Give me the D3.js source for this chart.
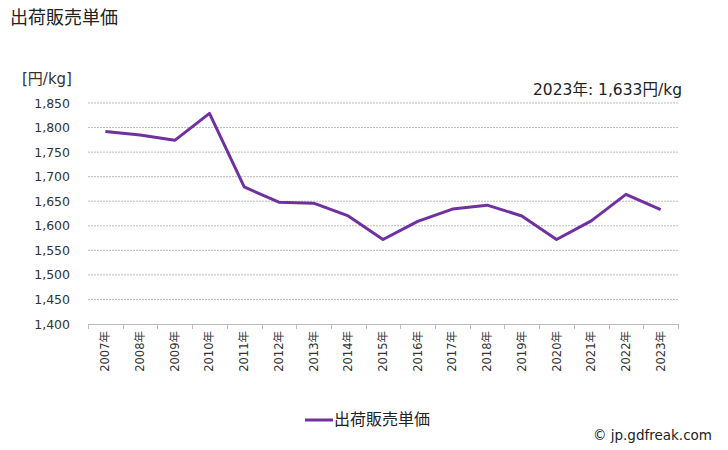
<!DOCTYPE html>
<html><head><meta charset="utf-8">
<script src="https://cdn.jsdelivr.net/npm/d3@7"></script>
<style>body{margin:0;background:#fff}svg{font-family:"DejaVu Sans","Noto Sans CJK JP",sans-serif}</style>
</head><body><svg id="c" width="728" height="450"></svg>
<script>
const years = ["2007年","2008年","2009年","2010年","2011年","2012年","2013年","2014年","2015年","2016年","2017年","2018年","2019年","2020年","2021年","2022年","2023年"];
const prices = [1792,1785,1774,1829,1679,1648,1646,1620,1572,1609,1634,1642,1620,1572,1610,1664,1633];
const yTicks = [1400,1450,1500,1550,1600,1650,1700,1750,1800,1850];
const seriesName = "出荷販売単価";
const unit = "[円/kg]";
const note = "2023年: 1,633円/kg";

const svg = d3.select("#c");
const L=88,R=678,T=103,B=324;
const x = d3.scaleBand().domain(years).range([L,R]);
const y = d3.scaleLinear().domain([1400,1850]).range([B,T]);

svg.append("text").attr("x",10).attr("y",24).attr("font-size",18).attr("fill","#222").text(seriesName);
svg.append("text").attr("x",22).attr("y",84).attr("font-size",15).attr("fill","#333").text(unit);
svg.append("text").attr("x",682).attr("y",95).attr("text-anchor","end").attr("font-size",15.5).attr("fill","#222").text(note);

// grid
svg.append("g").selectAll("line").data(yTicks.filter(d=>d>1400)).join("line")
  .attr("x1",L).attr("x2",R).attr("y1",d=>y(d)).attr("y2",d=>y(d))
  .attr("stroke","#bbb").attr("stroke-width",1).attr("stroke-dasharray","2,1");
// y labels
svg.append("g").selectAll("text").data(yTicks).join("text")
  .attr("x",70).attr("y",d=>y(d)+4.5).attr("text-anchor","end").attr("font-size",12.5).attr("fill","#333")
  .text(d=>d3.format(",")(d));
// x axis
svg.append("line").attr("x1",L).attr("x2",R).attr("y1",B+0.5).attr("y2",B+0.5).attr("stroke","#bbb");
const edges = years.map(d=>x(d)).concat([R]);
svg.append("g").selectAll("line").data(edges).join("line")
  .attr("x1",d=>Math.round(d)+0.5).attr("x2",d=>Math.round(d)+0.5).attr("y1",B).attr("y2",B+5).attr("stroke","#bbb");
svg.append("g").selectAll("text").data(years).join("text")
  .attr("transform",d=>`translate(${x(d)+x.bandwidth()/2+4},${331}) rotate(-90)`)
  .attr("text-anchor","end").attr("font-size",11.5).attr("fill","#333").text(d=>d);

// line
const line = d3.line().x((d,i)=>x(years[i])+x.bandwidth()/2).y(d=>y(d));
svg.append("path").datum(prices).attr("d",line).attr("fill","none")
  .attr("stroke","#7030A0").attr("stroke-width",3).attr("stroke-linejoin","round");

// legend
svg.append("line").attr("x1",305).attr("x2",333).attr("y1",420).attr("y2",420).attr("stroke","#7030A0").attr("stroke-width",3);
svg.append("text").attr("x",334).attr("y",425).attr("font-size",16).attr("fill","#222").text(seriesName);
svg.append("text").attr("x",712).attr("y",440).attr("text-anchor","end").attr("font-size",13.5).attr("fill","#222").text("© jp.gdfreak.com");
</script></body></html>
